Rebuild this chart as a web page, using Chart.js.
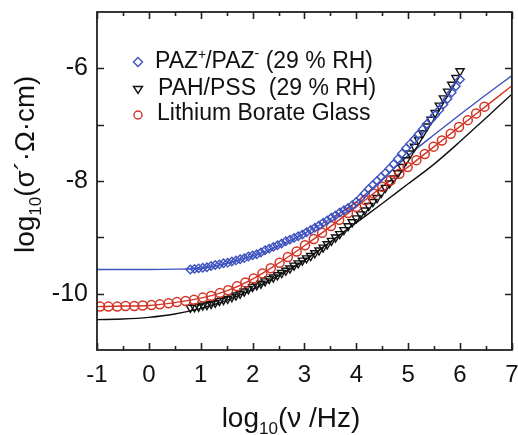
<!DOCTYPE html>
<html>
<head>
<meta charset="utf-8">
<script src="https://cdn.jsdelivr.net/npm/chart.js@4.4.0/dist/chart.umd.min.js"></script>
<style>
html, body { margin: 0; padding: 0; background: #fff; }
#contenedor { width: 518px; height: 435px; position: relative; }
</style>
</head>
<body>
<div id="contenedor"><canvas id="grafico"></canvas></div>
<script>
// Datos (log10 de frecuencia / conductividad)
const pazX = [0.80, 0.88, 0.96, 1.04, 1.12, 1.20, 1.28, 1.36, 1.44, 1.52, 1.60, 1.68, 1.76, 1.84, 1.92,
  2.00, 2.08, 2.16, 2.24, 2.32, 2.40, 2.48, 2.56, 2.64, 2.72, 2.80, 2.88, 2.96, 3.04, 3.12, 3.20, 3.28,
  3.36, 3.44, 3.52, 3.60, 3.68, 3.76, 3.84, 3.92, 4.00, 4.08, 4.16, 4.24, 4.32, 4.40, 4.48, 4.56, 4.64,
  4.72, 4.80, 4.88, 4.96, 5.04, 5.12, 5.20, 5.28, 5.36, 5.44, 5.52, 5.60, 5.68, 5.76, 5.84, 5.92, 6.00];
const pazY = [-9.57, -9.56, -9.55, -9.54, -9.53, -9.51, -9.49, -9.48, -9.46, -9.45, -9.43, -9.41, -9.39,
  -9.37, -9.34, -9.32, -9.30, -9.27, -9.23, -9.20, -9.17, -9.14, -9.11, -9.07, -9.04, -9.01, -8.98, -8.95,
  -8.91, -8.87, -8.83, -8.79, -8.74, -8.70, -8.65, -8.61, -8.56, -8.52, -8.48, -8.43, -8.37, -8.30, -8.22,
  -8.14, -8.07, -8.00, -7.93, -7.86, -7.78, -7.70, -7.61, -7.51, -7.42, -7.34, -7.26, -7.17, -7.08, -6.99,
  -6.91, -6.83, -6.74, -6.64, -6.54, -6.43, -6.32, -6.20];

const pahX = [0.80, 0.88, 0.96, 1.04, 1.12, 1.20, 1.28, 1.36, 1.44, 1.52, 1.60, 1.68, 1.76, 1.84, 1.92,
  2.00, 2.08, 2.16, 2.24, 2.32, 2.40, 2.48, 2.56, 2.64, 2.72, 2.80, 2.88, 2.96, 3.04, 3.12, 3.20, 3.28,
  3.36, 3.44, 3.52, 3.60, 3.68, 3.76, 3.84, 3.92, 4.00, 4.08, 4.16, 4.24, 4.32, 4.40, 4.48, 4.56, 4.64,
  4.72, 4.80, 4.88, 4.96, 5.04, 5.12, 5.20, 5.28, 5.36, 5.44, 5.52, 5.60, 5.68, 5.76, 5.84, 5.92, 6.00];
const pahY = [-10.25, -10.24, -10.23, -10.21, -10.20, -10.18, -10.16, -10.13, -10.11, -10.09, -10.06,
  -10.03, -10.00, -9.96, -9.92, -9.88, -9.85, -9.82, -9.78, -9.74, -9.71, -9.67, -9.63, -9.59, -9.55,
  -9.50, -9.46, -9.41, -9.37, -9.33, -9.28, -9.23, -9.18, -9.12, -9.06, -9.00, -8.94, -8.87, -8.80, -8.73,
  -8.66, -8.59, -8.52, -8.44, -8.37, -8.30, -8.21, -8.12, -8.04, -7.95, -7.86, -7.75, -7.63, -7.51, -7.39,
  -7.27, -7.15, -7.03, -6.91, -6.79, -6.66, -6.53, -6.41, -6.29, -6.17, -6.05];

const vidrioX = [-0.94, -0.78, -0.61, -0.45, -0.28, -0.12, 0.05, 0.21, 0.38, 0.54, 0.71, 0.87, 1.04, 1.20,
  1.37, 1.53, 1.70, 1.86, 2.02, 2.19, 2.35, 2.52, 2.68, 2.85, 3.01, 3.18, 3.34, 3.51, 3.67, 3.84, 4.00,
  4.17, 4.33, 4.50, 4.66, 4.83, 4.99, 5.16, 5.32, 5.49, 5.65, 5.82, 5.98, 6.15, 6.31, 6.47];
const vidrioY = [-10.23, -10.23, -10.23, -10.22, -10.22, -10.21, -10.20, -10.19, -10.17, -10.15, -10.13,
  -10.11, -10.07, -10.04, -9.99, -9.94, -9.87, -9.80, -9.73, -9.64, -9.55, -9.45, -9.35, -9.25, -9.14,
  -9.03, -8.92, -8.80, -8.69, -8.57, -8.46, -8.34, -8.22, -8.10, -7.99, -7.87, -7.75, -7.63, -7.52, -7.39,
  -7.28, -7.16, -7.04, -6.92, -6.80, -6.68];

// Curvas de ajuste
const ajusteX = [-1, -0.5, 0, 0.5, 1, 1.5, 2, 2.5, 3, 3.5, 4, 4.5, 5, 5.5, 6, 6.5, 7];
const ajustePaz = [-9.57, -9.57, -9.57, -9.565, -9.55, -9.46, -9.33, -9.15, -8.93, -8.67, -8.37, -7.97,
  -7.55, -7.18, -6.82, -6.47, -6.13];
const ajusteVidrio = [-10.23, -10.22, -10.21, -10.16, -10.08, -9.95, -9.74, -9.46, -9.15, -8.81, -8.46,
  -8.10, -7.75, -7.39, -7.03, -6.67, -6.31];
const ajustePah = [-10.46, -10.45, -10.42, -10.36, -10.26, -10.12, -9.92, -9.68, -9.41, -9.08, -8.74,
  -8.40, -8.05, -7.70, -7.30, -6.88, -6.46];

const etiquetasX = [-1, 0, 1, 2, 3, 4, 5, 6, 7];
const etiquetasY = [-6, -8, -10];

const AZUL = 'rgb(62, 82, 190)';
const ROJO = 'rgb(212, 52, 38)';
const NEGRO = '#111';
const FUENTE = '"Liberation Sans", Arial, sans-serif';

function puntos(xs, ys) {
  return xs.map((x, i) => ({ x: x, y: ys[i] }));
}

// Marco, marcas hacia dentro, titulos y leyenda
const decoracion = {
  id: 'decoracion',
  afterDraw(chart) {
    const ctx = chart.ctx;
    const area = chart.chartArea;
    const xs = chart.scales.x;
    const ys = chart.scales.y;
    ctx.save();
    ctx.strokeStyle = '#222';
    ctx.lineWidth = 1.8;
    ctx.strokeRect(area.left, area.top, area.right - area.left, area.bottom - area.top);

    ctx.lineWidth = 1.6;
    ctx.beginPath();
    for (let v = -1; v <= 7.001; v += 0.5) {
      const px = Math.round(xs.getPixelForValue(v)) + 0.5;
      const largo = Math.abs(v - Math.round(v)) < 0.01 ? 7 : 4;
      ctx.moveTo(px, area.bottom); ctx.lineTo(px, area.bottom - largo);
      ctx.moveTo(px, area.top); ctx.lineTo(px, area.top + largo);
    }
    for (let v = -10; v <= -6; v += 1) {
      const py = Math.round(ys.getPixelForValue(v)) + 0.5;
      ctx.moveTo(area.left, py); ctx.lineTo(area.left + 7, py);
      ctx.moveTo(area.right, py); ctx.lineTo(area.right - 7, py);
    }
    ctx.stroke();

    // Titulo eje X
    ctx.fillStyle = NEGRO;
    ctx.textBaseline = 'alphabetic';
    ctx.textAlign = 'left';
    const grande = '28px ' + FUENTE;
    const chica = '17px ' + FUENTE;
    ctx.font = grande;
    let w1 = ctx.measureText('log').width;
    let w3 = ctx.measureText('(ν /Hz)').width;
    ctx.font = chica;
    let w2 = ctx.measureText('10').width;
    let x0 = 291 - (w1 + w2 + w3) / 2;
    ctx.font = grande;
    ctx.fillText('log', x0, 427);
    ctx.font = chica;
    ctx.fillText('10', x0 + w1, 434);
    ctx.font = grande;
    ctx.fillText('(ν /Hz)', x0 + w1 + w2, 427);

    // Titulo eje Y (empieza abajo en y=253 y sube)
    ctx.save();
    ctx.translate(34, 253);
    ctx.rotate(-Math.PI / 2);
    ctx.font = grande;
    w1 = ctx.measureText('log').width;
    ctx.fillText('log', 0, 0);
    ctx.font = chica;
    w2 = ctx.measureText('10').width;
    ctx.fillText('10', w1, 7);
    ctx.font = grande;
    w3 = ctx.measureText('(σ´·Ω·cm)').width;
    ctx.translate(w1 + w2, 0);
    ctx.scale(121 / w3, 1);
    ctx.fillText('(σ´·Ω·cm)', 0, 0);
    ctx.restore();

    // Leyenda
    const texto = '23px ' + FUENTE;
    const sup = '14px ' + FUENTE;
    ctx.lineWidth = 1.4;
    // rombo
    ctx.strokeStyle = AZUL;
    ctx.beginPath();
    ctx.moveTo(138, 57.5); ctx.lineTo(142.5, 62); ctx.lineTo(138, 66.5); ctx.lineTo(133.5, 62);
    ctx.closePath(); ctx.stroke();
    // triangulo
    ctx.strokeStyle = NEGRO;
    ctx.beginPath();
    ctx.moveTo(133.5, 86.5); ctx.lineTo(142.5, 86.5); ctx.lineTo(138, 93.5);
    ctx.closePath(); ctx.stroke();
    // circulo
    ctx.strokeStyle = ROJO;
    ctx.beginPath();
    ctx.arc(138, 115, 4, 0, Math.PI * 2); ctx.stroke();

    ctx.fillStyle = NEGRO;
    let xx = 155;
    ctx.font = texto; ctx.fillText('PAZ', xx, 68); xx += ctx.measureText('PAZ').width;
    ctx.font = sup; ctx.fillText('+', xx, 59); xx += ctx.measureText('+').width - 1;
    ctx.font = texto; ctx.fillText('/PAZ', xx, 68); xx += ctx.measureText('/PAZ').width;
    ctx.font = sup; ctx.fillText('-', xx, 58); xx += ctx.measureText('-').width;
    ctx.font = texto; ctx.fillText(' (29 % RH)', xx, 68);
    ctx.fillText('PAH/PSS  (29 % RH)', 158, 95);
    ctx.fillText('Lithium Borate Glass', 157, 120);
    ctx.restore();
  }
};

const ctx = document.getElementById('grafico').getContext('2d');
const grafico = new Chart(ctx, {
  type: 'scatter',
  data: {
    datasets: [
      {
        label: 'PAZ+/PAZ- (29 % RH)',
        data: puntos(pazX, pazY),
        showLine: false,
        pointStyle: 'rectRot',
        pointRadius: 4.2,
        borderColor: AZUL,
        backgroundColor: 'rgba(0,0,0,0)',
        pointBorderWidth: 1.4
      },
      {
        label: 'Lithium Borate Glass',
        data: puntos(vidrioX, vidrioY),
        showLine: false,
        pointStyle: 'circle',
        pointRadius: 4.5,
        borderColor: ROJO,
        backgroundColor: 'rgba(0,0,0,0)',
        pointBorderWidth: 1.5
      },
      {
        label: 'PAH/PSS (29 % RH)',
        data: puntos(pahX, pahY),
        showLine: false,
        pointStyle: 'triangle',
        pointRotation: 180,
        pointRadius: 4.7,
        borderColor: NEGRO,
        backgroundColor: 'rgba(0,0,0,0)',
        pointBorderWidth: 1.4
      },
      {
        label: 'ajuste PAZ',
        data: puntos(ajusteX, ajustePaz),
        showLine: true,
        pointRadius: 0,
        borderColor: AZUL,
        borderWidth: 1.4,
        cubicInterpolationMode: 'monotone'
      },
      {
        label: 'ajuste vidrio',
        data: puntos(ajusteX, ajusteVidrio),
        showLine: true,
        pointRadius: 0,
        borderColor: ROJO,
        borderWidth: 1.4,
        cubicInterpolationMode: 'monotone'
      },
      {
        label: 'ajuste PAH',
        data: puntos(ajusteX, ajustePah),
        showLine: true,
        pointRadius: 0,
        borderColor: NEGRO,
        borderWidth: 1.4,
        cubicInterpolationMode: 'monotone'
      }
    ]
  },
  options: {
    responsive: true,
    maintainAspectRatio: false,
    animation: false,
    devicePixelRatio: 1,
    layout: { padding: { left: 0, top: 12, right: 4, bottom: 0 } },
    plugins: {
      legend: { display: false },
      tooltip: { enabled: false }
    },
    scales: {
      x: {
        type: 'linear',
        min: -1,
        max: 7,
        grid: { display: false, drawTicks: false },
        border: { display: false },
        afterFit(scale) {
          scale.height = 85;
          scale.paddingLeft = 0;
          scale.paddingRight = 0;
        },
        afterBuildTicks(scale) {
          scale.ticks = etiquetasX.map(v => ({ value: v }));
        },
        ticks: {
          padding: 11,
          color: NEGRO,
          maxRotation: 0,
          autoSkip: false,
          font: { family: FUENTE, size: 24 },
          callback: v => String(v)
        }
      },
      y: {
        type: 'linear',
        min: -11,
        max: -5,
        grid: { display: false, drawTicks: false },
        border: { display: false },
        afterFit(scale) {
          scale.width = 97;
          scale.paddingTop = 0;
          scale.paddingBottom = 0;
        },
        afterBuildTicks(scale) {
          scale.ticks = etiquetasY.map(v => ({ value: v }));
        },
        ticks: {
          padding: 9,
          color: NEGRO,
          autoSkip: false,
          font: { family: FUENTE, size: 25 },
          callback: v => String(v)
        }
      }
    }
  },
  plugins: [decoracion]
});
</script>
</body>
</html>
